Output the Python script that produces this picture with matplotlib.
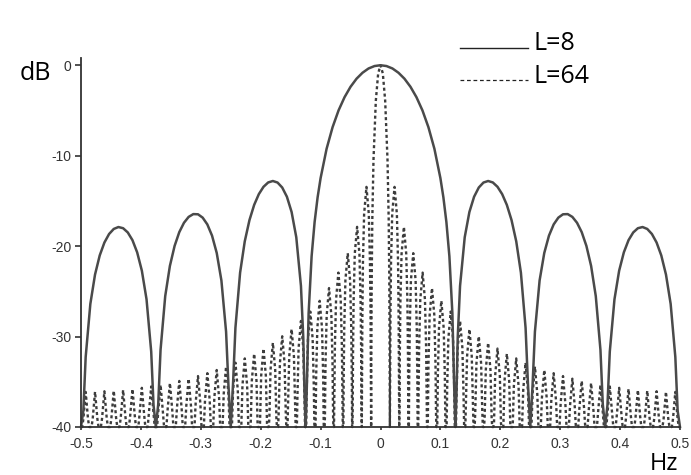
import numpy as np
import matplotlib
matplotlib.use("Agg")
import matplotlib.pyplot as plt
from matplotlib.lines import Line2D

# ---- data (positive-frequency half; curves are symmetric) ----
# L = 8 window response (dB), frequency in Hz
f8_half = [0.0, 0.01, 0.02, 0.03, 0.04, 0.05, 0.06, 0.07, 0.08, 0.09, 0.10, 0.105,
           0.11, 0.115, 0.12, 0.123, 0.125,
           0.12695, 0.1289, 0.1328, 0.1406, 0.1484, 0.15625, 0.1641, 0.1719, 0.1797,
           0.1875, 0.1953, 0.2031, 0.2109,
           0.21875, 0.2266, 0.2344, 0.2422, 0.2461, 0.25,
           0.2539, 0.2578, 0.2656, 0.2734, 0.28125, 0.2891, 0.2969, 0.3047, 0.3125,
           0.3203, 0.3281, 0.3359, 0.34375,
           0.3516, 0.3594, 0.3672, 0.3711, 0.375,
           0.3789, 0.3828, 0.3906, 0.3984, 0.40625, 0.4141, 0.4219, 0.4297, 0.4375,
           0.4453, 0.4531, 0.4609, 0.46875,
           0.4766, 0.4844, 0.4922, 0.4961, 0.5]
db8_half = [0.0, -0.09, -0.36, -0.83, -1.49, -2.38, -3.53, -4.99, -6.85, -9.24, -12.48, -14.61,
            -17.34, -21.12, -27.42, -35.56, -40.0,
            -36.02, -30.14, -24.41, -19.02, -16.23, -14.54, -13.52, -12.97, -12.80,
            -12.96, -13.44, -14.25, -15.44,
            -17.12, -19.47, -22.94, -29.03, -35.11, -40.0,
            -35.33, -29.46, -23.80, -20.76, -18.84, -17.60, -16.85, -16.48, -16.46,
            -16.77, -17.42, -18.45, -19.98,
            -22.19, -25.53, -31.48, -37.50, -40.0,
            -37.59, -31.66, -25.88, -22.72, -20.69, -19.34, -18.49, -18.02, -17.89,
            -18.10, -18.66, -19.60, -21.03,
            -23.15, -26.39, -32.26, -38.23, -40.0]

# L = 64: main lobe profile (offset from 0 Hz, dB)
main64_df = [0.0, 0.0039, 0.0078, 0.0117, 0.0137, 0.01465, 0.01514, 0.015625]
main64_db = [0.0, -0.91, -3.92, -10.45, -17.12, -23.58, -29.84, -40.0]
# L = 64: side-lobe peak levels (dB), lobes 1..31 going outward from 0 Hz
side64_peaks = [-13.45, -17.87, -20.78, -22.93, -24.64, -26.05, -27.24, -28.27,
                -29.18, -29.97, -30.69, -31.33, -31.90, -32.42, -32.89, -33.32,
                -33.70, -34.05, -34.37, -34.66, -34.91, -35.14, -35.34, -35.52,
                -35.67, -35.80, -35.91, -35.99, -36.05, -36.10, -36.12]
# shape of one side lobe: position across the lobe and drop below its peak (dB)
lobe_pos = [0.0, 0.03125, 0.0625, 0.125, 0.25, 0.5, 0.75, 0.875, 0.9375, 0.96875, 1.0]
lobe_drop = [-99, -20.2, -14.2, -8.3, -3.0, 0.0, -3.0, -8.3, -14.2, -20.2, -99]
lobe_width64 = 1 / 64
floor_db = -40.0

legend_labels = ["L=8", "L=64"]
xticks = [-0.5, -0.4, -0.3, -0.2, -0.1, 0, 0.1, 0.2, 0.3, 0.4, 0.5]
xticklabels = ["-0.5", "-0.4", "-0.3", "-0.2", "-0.1", "0", "0.1", "0.2", "0.3", "0.4", "0.5"]
yticks = [-40, -30, -20, -10, 0]
yticklabels = ["-40", "-30", "-20", "-10", "0"]

# ---- assemble symmetric curves ----
f8_half = np.array(f8_half)
db8_half = np.array(db8_half)
f8 = np.concatenate([-f8_half[::-1], f8_half[1:]])
db8 = np.concatenate([db8_half[::-1], db8_half[1:]])

xs, ys = list(main64_df), list(main64_db)
for k, pk in enumerate(side64_peaks):
    start = (k + 1) * lobe_width64
    for p, d in zip(lobe_pos[1:], lobe_drop[1:]):
        xs.append(start + p * lobe_width64)
        ys.append(max(pk + d, floor_db))
xs = np.array(xs)
ys = np.array(ys)
f64 = np.concatenate([-xs[::-1], xs[1:]])
db64 = np.concatenate([ys[::-1], ys[1:]])

# ---- figure ----
W, H = 691, 475
fig = plt.figure(figsize=(W / 100, H / 100), dpi=100)
ax = fig.add_axes([81 / W, 1 - 427 / H, (680 - 81) / W, (427 - 58) / H])

ax.plot(f64, db64, color="#3c3c3c", lw=1.7, linestyle=(0, (1.3, 1.2)), clip_on=False)
ax.plot(f8, db8, color="#4a4a4a", lw=1.8, solid_joinstyle="round", clip_on=False)

ax.set_xlim(-0.5, 0.5)
ax.set_ylim(-40, 0.8)
ax.set_xticks(xticks)
ax.set_xticklabels(xticklabels)
ax.set_yticks(yticks)
ax.set_yticklabels(yticklabels)
for s in ["top", "right"]:
    ax.spines[s].set_visible(False)
for s in ["left", "bottom"]:
    ax.spines[s].set_color("#333333")
    ax.spines[s].set_linewidth(1.3)
ax.tick_params(axis="y", direction="out", length=4, width=1.2, colors="#333333",
               labelsize=10, pad=3)
ax.tick_params(axis="x", direction="out", length=2.5, width=1.2, colors="#333333",
               labelsize=10, pad=5)
for lab in ax.get_xticklabels() + ax.get_yticklabels():
    lab.set_family("Liberation Sans")

# axis labels
fig.text(20 / W, 1 - 80 / H, "dB", fontsize=18, family="Open Sans", color="black",
         ha="left", va="baseline")
fig.text(650 / W, 1 - 470 / H, "Hz", fontsize=17, family="Open Sans", color="black",
         ha="left", va="baseline")

# legend (drawn as handles + real text)
fig.add_artist(Line2D([460 / W, 528 / W], [1 - 48 / H, 1 - 48 / H],
                      transform=fig.transFigure, color="#222222", lw=1.0))
fig.add_artist(Line2D([460 / W, 528 / W], [1 - 80 / H, 1 - 80 / H],
                      transform=fig.transFigure, color="#222222", lw=0.9,
                      linestyle=(0, (3, 2.2))))
fig.text(534 / W, 1 - 50 / H, legend_labels[0], fontsize=18, family="Open Sans",
         color="black", ha="left", va="baseline")
fig.text(534 / W, 1 - 83 / H, legend_labels[1], fontsize=18, family="Open Sans",
         color="black", ha="left", va="baseline")

fig.savefig("out.png", dpi=100)
